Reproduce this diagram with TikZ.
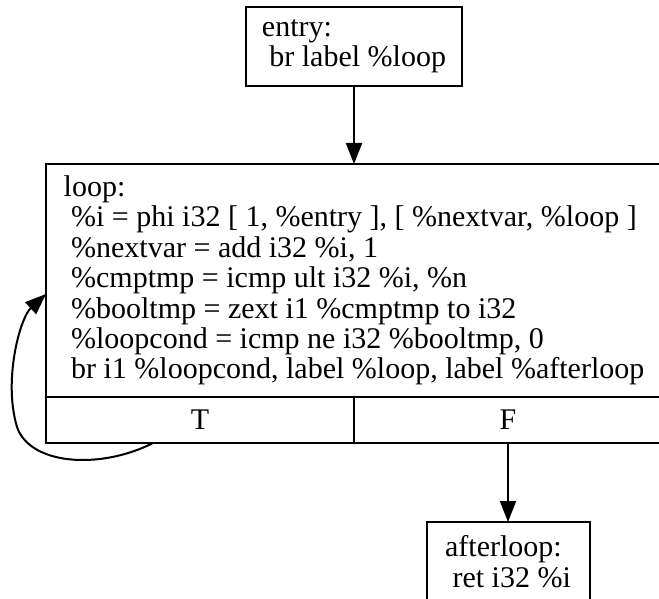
\documentclass[tikz,border=0pt]{standalone}
\usepackage{fontspec}
\setmainfont{Liberation Serif}
\usetikzlibrary{arrows.meta}
\usetikzlibrary{positioning}
\tikzset{>={Triangle[length=21pt,width=16pt]}}
\newcommand{\indt}{\hspace*{.25em}}

\begin{document}
\begin{tikzpicture}[x=1pt, y=-1pt, line width=2pt,
    every node/.style={font=\fontsize{30}{30.4}\selectfont},
    block/.style={draw, rectangle, outer sep=0pt, inner sep=0pt, align=left},
    port/.style={draw, rectangle, outer sep=0pt, inner sep=0pt, minimum width=308pt, minimum height=46pt}]
    \useasboundingbox (0,0) rectangle (659,599);
    \clip (0,0) rectangle (659,599);
    \node[block, minimum width=216pt, minimum height=79pt] (entry) at (354,46.5) {entry:\\ \indt br label \%loop};
    \node[block, minimum width=616pt, minimum height=233pt, below=78pt of entry] (loop) {loop:\\
        \indt\%i = phi i32 [ 1, \%entry ], [ \%nextvar, \%loop ]\\
        \indt\%nextvar = add i32 \%i, 1\\
        \indt\%cmptmp = icmp ult i32 \%i, \%n\\
        \indt\%booltmp = zext i1 \%cmptmp to i32\\
        \indt\%loopcond = icmp ne i32 \%booltmp, 0\\
        \indt br i1 \%loopcond, label \%loop, label \%afterloop};
    \node[port, below right=0pt and 0pt of loop.south west] (loopT) {T};
    \node[port, right=0pt of loopT] (loopF) {F};
    \node[block, minimum width=163pt, minimum height=79pt, below=79pt of loopF] (afterloop) {afterloop:\\ \indt ret i32 \%i};
    \coordinate[left=47pt of loopT.south] (back-start);
    \coordinate[below=13.5pt of loop.west] (back-end);
    \coordinate (back-corner) at (17,427);
    \draw[->] (entry) -- (loop);
    \draw[->] (loopF) -- (afterloop);
    \draw[->] (back-start) .. controls (100,470) and (30,465) .. (back-corner) .. controls (3,380) and (20,318) .. (back-end);
\end{tikzpicture}
\end{document}
